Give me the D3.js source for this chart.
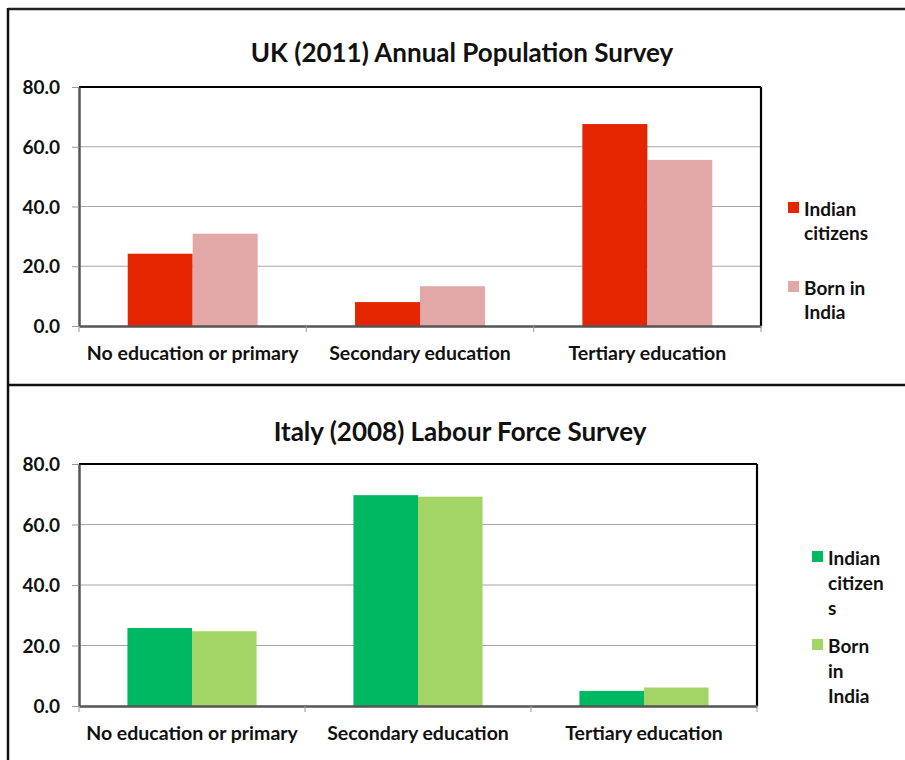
<!DOCTYPE html>
<html>
<head>
<meta charset="utf-8">
<script src="https://cdn.jsdelivr.net/npm/d3@7/dist/d3.min.js"></script>
<style>
  html, body { margin: 0; padding: 0; background: #fff; }
  svg { display: block; font-family: Lato, "Open Sans", sans-serif; font-weight: bold; }
</style>
</head>
<body>
<svg id="chart" width="905" height="760"></svg>
<script>
// ---- data ----
const categories = ["No education or primary", "Secondary education", "Tertiary education"];
const seriesNames = ["Indian citizens", "Born in India"];
const ukIndianCitizens = [24.2, 8.0, 67.6];
const ukBornInIndia = [30.9, 13.3, 55.6];
const itIndianCitizens = [25.8, 69.7, 5.0];
const itBornInIndia = [24.7, 69.2, 6.1];
const yTicks = [0, 20, 40, 60, 80];
const ukTitle = "UK (2011) Annual Population Survey";
const itTitle = "Italy (2008) Labour Force Survey";
const ukLegendLines = [["Indian", "citizens"], ["Born in", "India"]];
const itLegendLines = [["Indian", "citizen", "s"], ["Born", "in", "India"]];

const svg = d3.select("#chart");

// outer frame
svg.append("line").attr("x1", 8).attr("x2", 905).attr("y1", 9).attr("y2", 9)
  .attr("stroke", "#222").attr("stroke-width", 2.5);
svg.append("line").attr("x1", 8).attr("x2", 8).attr("y1", 8).attr("y2", 760)
  .attr("stroke", "#111").attr("stroke-width", 2.5);
svg.append("line").attr("x1", 8).attr("x2", 905).attr("y1", 385).attr("y2", 385)
  .attr("stroke", "#111").attr("stroke-width", 2.5);

function drawChart(cfg) {
  const g = svg.append("g");
  const x = d3.scaleBand().domain(categories).range([cfg.left, cfg.right]).paddingInner(0).paddingOuter(0);
  const y = d3.scaleLinear().domain([0, 80]).range([cfg.bottom, cfg.top]);
  const barW = x.bandwidth() / 3.5;
  const xs = d3.scaleBand().domain(seriesNames).range([0, barW * 2]);

  // title
  g.append("text").attr("x", cfg.titleX).attr("y", cfg.titleY)
    .attr("text-anchor", "middle").attr("font-size", 26).attr("fill", "#111")
    .text(cfg.title);

  // gridlines
  g.selectAll(".grid").data(yTicks.filter(d => d > 0 && d < 80)).join("line")
    .attr("x1", cfg.left).attr("x2", cfg.right)
    .attr("y1", d => y(d)).attr("y2", d => y(d))
    .attr("stroke", "#a6a6a6").attr("stroke-width", 1.2);

  // bars
  const data = categories.map((c, i) => ({ c, vals: [cfg.s1[i], cfg.s2[i]] }));
  const grp = g.selectAll(".grp").data(data).join("g")
    .attr("transform", d => `translate(${x(d.c) + (x.bandwidth() - barW * 2) / 2},0)`);
  grp.selectAll("rect").data(d => d.vals.map((v, k) => ({ v, s: seriesNames[k], k }))).join("rect")
    .attr("x", d => xs(d.s)).attr("width", xs.bandwidth())
    .attr("y", d => y(d.v)).attr("height", d => y(0) - y(d.v))
    .attr("fill", d => cfg.colors[d.k]);

  // plot frame top/right
  g.append("line").attr("x1", cfg.left).attr("x2", cfg.right).attr("y1", cfg.top).attr("y2", cfg.top)
    .attr("stroke", "#000").attr("stroke-width", 2.2);
  g.append("line").attr("x1", cfg.right).attr("x2", cfg.right).attr("y1", cfg.top).attr("y2", cfg.bottom)
    .attr("stroke", "#000").attr("stroke-width", 2.2);

  // y axis
  const yAxis = d3.axisLeft(y).tickValues(yTicks).tickFormat(d3.format(".1f")).tickSize(7).tickSizeOuter(0).tickPadding(12);
  const ya = g.append("g").attr("transform", `translate(${cfg.left},0)`).call(yAxis);
  ya.select(".domain").attr("stroke", "#555").attr("stroke-width", 2.5);
  ya.selectAll(".tick line").attr("stroke", "#999").attr("stroke-width", 1);
  ya.selectAll(".tick text").attr("font-size", 19).attr("font-family", "Lato, sans-serif").attr("font-weight", "bold").attr("fill", "#111").attr("dy", "0.35em");

  // x axis
  const xa = g.append("g").attr("transform", `translate(0,${cfg.bottom})`)
    .call(d3.axisBottom(x).tickSize(0).tickPadding(20));
  xa.select(".domain").attr("stroke", "#555").attr("stroke-width", 2.5);
  xa.selectAll(".tick text").attr("font-size", 19.5).attr("font-family", "Lato, sans-serif").attr("font-weight", "bold").attr("fill", "#111");
  const bounds = categories.map(c => x(c)).concat([x.range()[1]]);
  g.selectAll(".xtick").data(bounds).join("line")
    .attr("x1", d => d).attr("x2", d => d)
    .attr("y1", cfg.bottom).attr("y2", cfg.bottom + 6)
    .attr("stroke", "#999").attr("stroke-width", 1);

  // legend
  cfg.legend.forEach((lines, k) => {
    const ly = cfg.legendY[k];
    g.append("rect").attr("x", cfg.legendX).attr("y", ly - 14).attr("width", 11).attr("height", 11)
      .attr("fill", cfg.colors[k]);
    const t = g.append("text").attr("x", cfg.legendX + 16).attr("y", ly)
      .attr("font-size", 19).attr("fill", "#111");
    lines.forEach((ln, j) => {
      t.append("tspan").attr("x", cfg.legendX + 16).attr("y", ly + j * cfg.lineH).text(ln);
    });
  });
}

drawChart({
  title: ukTitle, titleX: 462, titleY: 62,
  left: 79, right: 761, top: 87, bottom: 326,
  s1: ukIndianCitizens, s2: ukBornInIndia,
  colors: ["#e52400", "#e2a7a7"],
  legend: ukLegendLines, legendX: 788, legendY: [216, 295], lineH: 24
});

drawChart({
  title: itTitle, titleX: 460, titleY: 441,
  left: 79, right: 757, top: 464, bottom: 706,
  s1: itIndianCitizens, s2: itBornInIndia,
  colors: ["#00b862", "#a2d566"],
  legend: itLegendLines, legendX: 812, legendY: [565, 653], lineH: 25
});
</script>
</body>
</html>
